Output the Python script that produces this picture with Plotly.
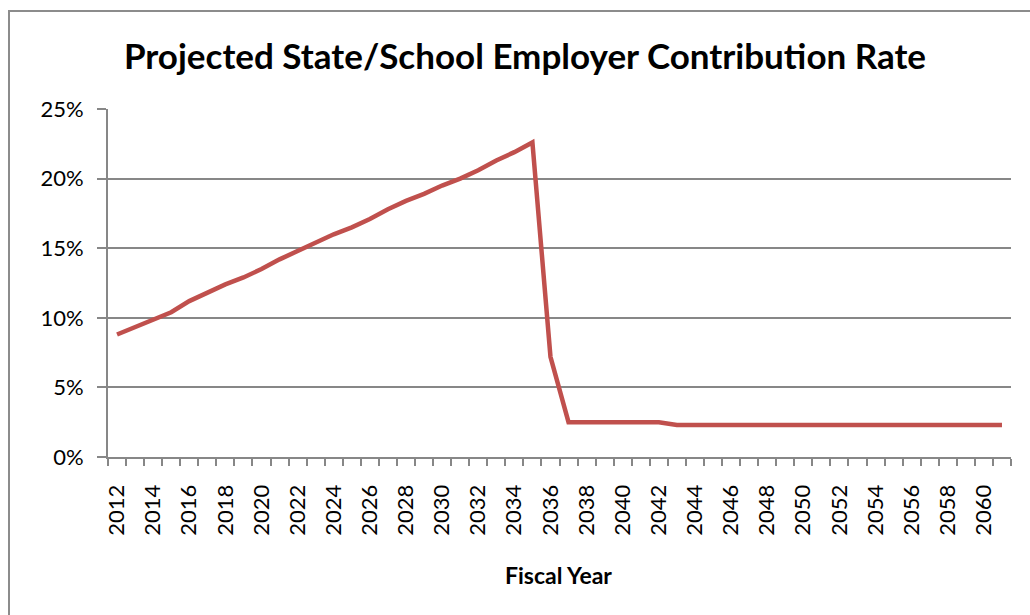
import plotly.graph_objects as go

# Fiscal years and projected employer contribution rate (%)
years = list(range(2012, 2062))
rate_pct = [
    8.8, 9.35, 9.9, 10.4, 11.2, 11.8, 12.4, 12.9, 13.5, 14.2,
    14.8, 15.4, 16.0, 16.5, 17.1, 17.8, 18.4, 18.9, 19.5, 20.0,
    20.6, 21.3, 21.9, 22.6, 7.2, 2.5, 2.5, 2.5, 2.5, 2.5,
    2.5, 2.3, 2.3, 2.3, 2.3, 2.3, 2.3, 2.3, 2.3, 2.3,
    2.3, 2.3, 2.3, 2.3, 2.3, 2.3, 2.3, 2.3, 2.3, 2.3,
]
y_ticks = [0, 5, 10, 15, 20, 25]
y_tick_text = ["0%", "5%", "10%", "15%", "20%", "25%"]
x_label_years = list(range(2012, 2062, 2))

W, H = 1030, 615
ML, MR, MT, MB = 108, 19, 109, 158
PW, PH = W - ML - MR, H - MT - MB

FONT = "Lato, Carlito, Calibri, sans-serif"
GRID = "#878787"
LINE = "#C0504D"


def px_x(x):
    return (x - ML) / PW


def px_y(y):
    return (H - MB - y) / PH


fig = go.Figure()
fig.add_trace(go.Scatter(
    x=years, y=rate_pct, mode="lines",
    line=dict(color=LINE, width=4.5),
    hoverinfo="x+y", showlegend=False,
))

fig.update_layout(
    width=W, height=H,
    margin=dict(l=ML, r=MR, t=MT, b=MB),
    paper_bgcolor="white", plot_bgcolor="white",
    font=dict(family=FONT, color="black"),
    title=dict(
        text="<b>Projected State/School Employer Contribution Rate</b>",
        x=525 / W, xanchor="center", xref="container",
        y=1 - 57 / H, yanchor="middle", yref="container",
        font=dict(family=FONT, size=35, color="black"),
    ),
    xaxis=dict(
        range=[2011.5, 2061.5],
        tickmode="array", tickvals=x_label_years,
        ticktext=[str(v) for v in x_label_years],
        tickangle=-90, ticks="", ticklabelstandoff=17,
        tickfont=dict(family=FONT, size=22, color="black"),
        showgrid=False, zeroline=False,
        showline=True, linecolor=GRID, linewidth=2,
        minor=dict(ticks="outside", tick0=2011.5, dtick=1,
                   ticklen=7, tickcolor=GRID, tickwidth=2, showgrid=False),
    ),
    yaxis=dict(
        range=[0, 25],
        tickmode="array", tickvals=y_ticks, ticktext=y_tick_text,
        ticks="outside", ticklen=9, tickcolor=GRID, tickwidth=2,
        ticklabelstandoff=9,
        tickfont=dict(family=FONT, size=22, color="black"),
        showgrid=True, gridcolor=GRID, gridwidth=2,
        zeroline=False, showline=True, linecolor=GRID, linewidth=2,
    ),
    annotations=[dict(
        text="<b>Fiscal Year</b>", xref="paper", yref="paper",
        x=px_x(558), y=px_y(575), xanchor="center", yanchor="middle",
        showarrow=False, font=dict(family=FONT, size=23, color="black"),
    )],
    shapes=[dict(
        type="path", xref="paper", yref="paper",
        path=(f"M {px_x(9)},{px_y(H + 10)} L {px_x(9)},{px_y(11)} "
              f"L {px_x(W + 10)},{px_y(11)}"),
        line=dict(color="#8c8c8c", width=2),
    )],
)

fig.write_html("out.html")
